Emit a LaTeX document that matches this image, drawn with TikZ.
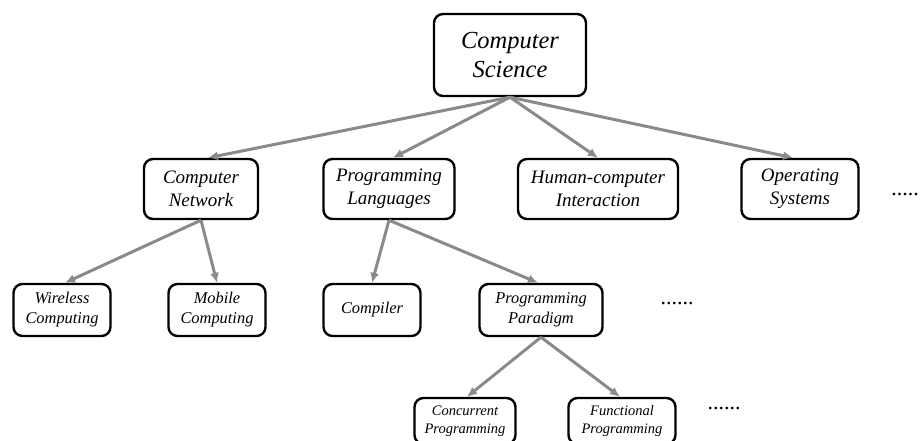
\documentclass[tikz,border=0pt]{standalone}
\usepackage{fontspec}
\setmainfont{Liberation Serif}
\usetikzlibrary{arrows.meta}
\definecolor{linkgray}{RGB}{138,138,138}

\begin{document}
\begin{tikzpicture}[x=1pt,y=-1pt,
	box/.style={draw=black,line width=2.4pt,rounded corners=9pt,align=center,inner sep=1pt},
	topbox/.style={box,minimum width=152pt,minimum height=82pt,font=\fontsize{24.5}{29}\selectfont\itshape},
	midbox/.style={box,minimum height=60pt,font=\fontsize{19}{23}\selectfont\itshape},
	lowbox/.style={box,minimum width=97pt,minimum height=52pt,font=\fontsize{16.4}{20}\selectfont\itshape},
	leafbox/.style={box,minimum height=46pt,font=\fontsize{14.5}{18}\selectfont\itshape},
	link/.style={linkgray,line width=3pt,-{Latex[length=10pt,width=9pt]}},
	more/.style={inner sep=0pt,font=\fontsize{22}{22}\selectfont}]
			\useasboundingbox (0,0) rectangle (921,441);
			\clip (0,0) rectangle (921,441);
			
			\node[topbox] (cs) at (510,55) {Computer\\Science};
			
			\node[midbox,minimum width=114pt] (cn) at (201,189) {Computer\\Network};
			\node[midbox,minimum width=131pt] (pl) at (389,189) {Programming\\Languages};
			\node[midbox,minimum width=160pt] (hci) at (598,189) {Human-computer\\Interaction};
			\node[midbox,minimum width=117pt] (os) at (800,189) {Operating\\Systems};
			\node[more,anchor=east] (more1) at (919,195) {.....};
			
			\node[lowbox] (wc) at (62,310) {Wireless\\Computing};
			\node[lowbox] (mc) at (217,310) {Mobile\\Computing};
			\node[lowbox] (comp) at (372,310) {Compiler};
			\node[lowbox,minimum width=123pt] (pp) at (541,310) {Programming\\Paradigm};
			\node[more] (more2) at (677,304) {......};
			
			\node[leafbox,minimum width=101pt] (cp) at (465,421) {Concurrent\\Programming};
			\node[leafbox,minimum width=107pt] (fp) at (622,421) {Functional\\Programming};
			\node[more] (more3) at (724,409) {......};
			
			% tree links
			\draw[link] (cs.south) -- ([xshift=7pt]cn.north);
			\draw[link] (cs.south) -- ([xshift=4pt]pl.north);
			\draw[link] (cs.south) -- (hci.north);
			\draw[link] (cs.south) -- ([xshift=-7pt]os.north);
			
			\draw[link] (cn.south) -- ([xshift=3pt]wc.north);
			\draw[link] (cn.south) -- (mc.north);
			\draw[link] (pl.south) -- (comp.north);
			\draw[link] (pl.south) -- ([xshift=-3pt]pp.north);
			
			\draw[link] (pp.south) -- ([xshift=2pt]cp.north);
			\draw[link] (pp.south) -- ([xshift=-2pt]fp.north);
			\end{tikzpicture}
\end{document}
